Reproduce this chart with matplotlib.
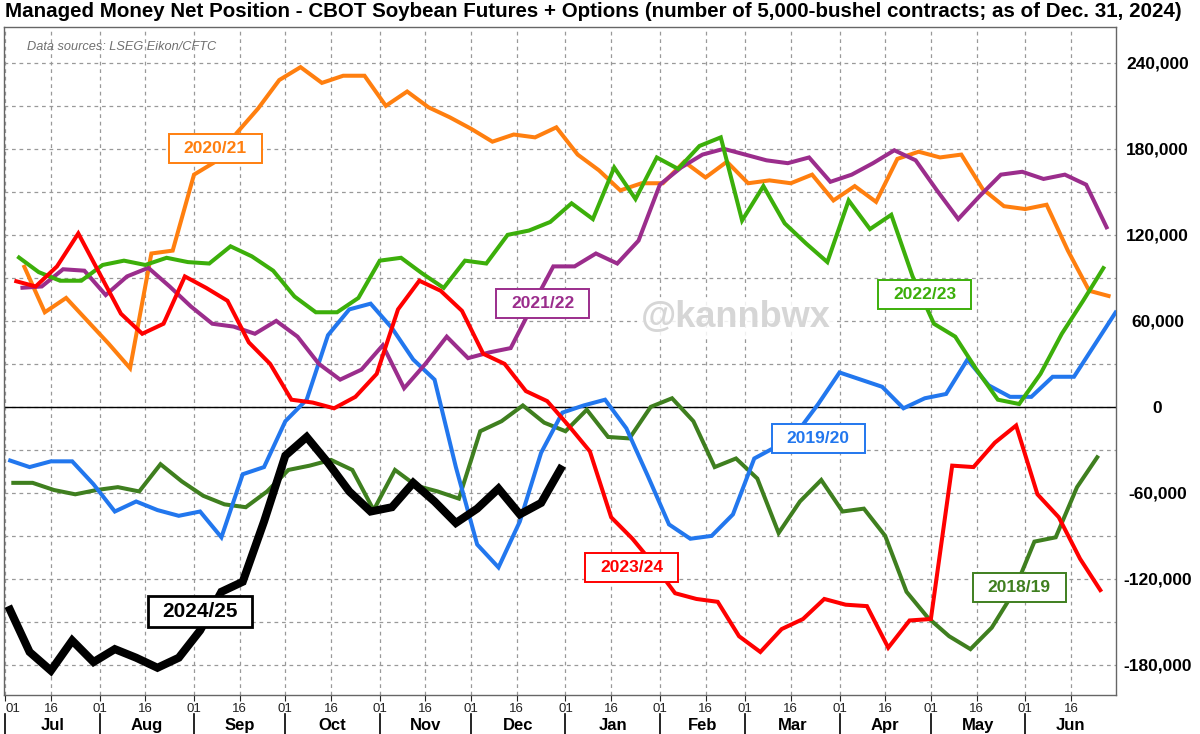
import datetime as dt

import matplotlib

matplotlib.use("Agg")
import matplotlib.pyplot as plt
import matplotlib.transforms as mtransforms
from matplotlib.patches import Rectangle
import numpy as np
import pandas as pd

plt.rcParams["font.family"] = ["Liberation Sans", "DejaVu Sans"]

# Managed money net position, thousands of contracts, weekly (Tuesdays)
seasons = ["2018/19", "2019/20", "2020/21", "2021/22", "2022/23", "2023/24", "2024/25"]
first_report = ["2018-07-03", "2019-07-02", "2020-07-07", "2021-07-06",
                "2022-07-05", "2023-07-04", "2024-07-02"]

mm_2018 = [-53, -53, -58, -61, -58, -56, -59, -40, -52, -62, -68, -70, -59, -44, -41, -37,
           -44, -72, -44, -55, -59, -64, -17, -10, 1, -11, -17, -2, -21, -22, 0, 6,
           -10, -42, -36, -50, -88, -66, -51, -73, -71, -90, -129, -147, -160, -169,
           -154, -130, -94, -91, -56, -34]
mm_2019 = [-37, -42, -38, -38, -54, -73, -66, -72, -76, -73, -91, -47, -42, -10, 5, 50,
           68, 72, 55, 33, 19, -42, -96, -112, -80, -32, -4, 1, 5, -15, -48, -82,
           -92, -90, -75, -36, -28, -18, 2, 24, 19, 14, -1, 6, 9, 33, 15, 7,
           7, 21, 21, 44, 67]
mm_2020 = [99, 66, 76, 60, 44, 27, 107, 109, 162, 171, 191, 208, 228, 237, 226, 231,
           231, 210, 220, 209, 202, 194, 185, 190, 188, 195, 176, 165, 151, 156, 156, 171,
           160, 171, 156, 158, 156, 162, 144, 154, 143, 173, 178, 174, 176, 152, 140, 138,
           141, 109, 81, 77]
mm_2021 = [83, 84, 96, 95, 78, 91, 97, 84, 70, 58, 56, 51, 60, 49, 30, 19,
           26, 43, 13, 30, 49, 34, 38, 41, 70, 98, 98, 107, 100, 116, 155, 167,
           176, 180, 176, 172, 170, 174, 157, 162, 170, 179, 172, 151, 131, 147, 162, 164,
           159, 162, 155, 124]
mm_2022 = [105, 94, 88, 88, 99, 102, 99, 104, 101, 100, 112, 105, 95, 77, 66, 66,
           76, 102, 104, 93, 83, 102, 100, 120, 123, 129, 142, 131, 167, 145, 174, 166,
           182, 188, 130, 154, 128, 114, 101, 144, 124, 134, 91, 58, 49, 26, 5, 2,
           23, 51, 74, 98]
mm_2023 = [88, 84, 98, 121, 93, 65, 51, 58, 91, 83, 74, 45, 30, 5, 3, -1,
           7, 23, 68, 88, 81, 67, 37, 30, 11, 4, -13, -31, -77, -92, -110, -130,
           -134, -136, -160, -171, -155, -148, -134, -138, -139, -168, -149, -148, -41, -42, -25, -13,
           -61, -77, -106, -129]
mm_2024 = [-139, -171, -184, -163, -178, -169, -175, -182, -175, -156, -129, -122, -80, -34, -21, -39,
           -59, -73, -70, -53, -66, -81, -71, -57, -75, -67, -41]

series_values = [mm_2018, mm_2019, mm_2020, mm_2021, mm_2022, mm_2023, mm_2024]
colors = ["#3F7F1F", "#2277EE", "#FF7F0F", "#9B2D8C", "#3CAF0A", "#FF0000", "#000000"]

month_names = ["Jul", "Aug", "Sep", "Oct", "Nov", "Dec", "Jan", "Feb", "Mar", "Apr", "May", "Jun"]
y_ticks = [-180000, -120000, -60000, 0, 60000, 120000, 180000, 240000]


def season_days(start, n):
    dates = pd.date_range(start, periods=n, freq="7D")
    origin = pd.Timestamp(dates[0].year, 7, 1)
    return (dates - origin).days.values


def boxed_label(ax, x, y, text, color, size, padx, pady, lw):
    t = ax.text(x, y, text, color=color, fontsize=size, fontweight="bold", ha="center",
                va="center", zorder=6)
    renderer = ax.figure.canvas.get_renderer()
    bb = t.get_window_extent(renderer)
    x0, y0 = ax.transAxes.inverted().transform((bb.x0 - padx, bb.y0 - pady))
    x1, y1 = ax.transAxes.inverted().transform((bb.x1 + padx, bb.y1 + pady))
    ax.add_patch(Rectangle((x0, y0), x1 - x0, y1 - y0, transform=ax.transAxes,
                           fc="white", ec=color, lw=lw, zorder=5))


fig = plt.figure(figsize=(12, 7.34), dpi=100)
ax = fig.add_axes([4 / 1200, 39 / 734, 1112 / 1200, 668 / 734])

for name, start, vals, col in zip(seasons, first_report, series_values, colors):
    days = season_days(start, len(vals))
    lw = 5.8 if name == "2024/25" else 2.9
    ax.plot(days, np.array(vals) * 1000, color=col, lw=lw, solid_joinstyle="miter",
            solid_capstyle="butt", zorder=3)

ax.axhline(0, color="black", lw=1.0, zorder=2)

ax.set_xlim(-0.4, 364.8)
ax.set_ylim(-201000, 265000)

# x ticks at the 1st and 16th of each month
ref = dt.date(2021, 7, 1)
month_starts = []
for i in range(12):
    m = (6 + i) % 12 + 1
    y = 2021 if m >= 7 else 2022
    month_starts.append((dt.date(y, m, 1) - ref).days)
month_ends = month_starts[1:] + [365]

tick_pos, tick_lab = [], []
for s in month_starts:
    tick_pos += [s, s + 15]
    tick_lab += ["01", "16"]
ax.set_xticks(tick_pos)
ax.set_xticklabels(tick_lab, fontsize=9.5)
ax.get_xticklabels()[0].set_horizontalalignment("left")
ax.tick_params(axis="x", length=4, width=0.8, pad=2, colors="#222222")

trans = mtransforms.blended_transform_factory(ax.transData, ax.transAxes)
for s, e, name in zip(month_starts, month_ends, month_names):
    ax.text((s + e) / 2, -0.045, name, transform=trans, ha="center", va="center",
            fontsize=12, fontweight="bold")
    ax.plot([s, s], [-0.029, -0.06], transform=trans, color="black", lw=1.2, clip_on=False)

# y axis on right
ax.yaxis.tick_right()
ax.set_yticks(y_ticks)
ax.set_yticklabels([f"{v:,}" for v in y_ticks], fontsize=12.5, fontweight="bold")
for lab in ax.get_yticklabels():
    lab.set_horizontalalignment("center")
ax.tick_params(axis="y", length=0, pad=30)
ax.set_yticks(np.arange(-180000, 260000, 30000), minor=True)
ax.tick_params(axis="y", which="minor", length=0)

ax.grid(True, which="major", axis="x", color="#999999", ls=(0, (3, 3)), lw=0.9, zorder=1)
ax.grid(True, which="both", axis="y", color="#999999", ls=(0, (3, 3)), lw=0.9, zorder=1)
ax.set_axisbelow(True)

for sp in ax.spines.values():
    sp.set_color("#666666")
    sp.set_linewidth(1.0)

# season labels
label_pos = {
    "2018/19": (333, -125700),
    "2019/20": (267, -21800),
    "2020/21": (69, 180500),
    "2021/22": (176.5, 72300),
    "2022/23": (302, 78500),
    "2023/24": (205.7, -111800),
}
for name, col in zip(seasons, colors):
    if name in label_pos:
        x, y = label_pos[name]
        boxed_label(ax, x, y, name, col, 12.5, 15, 7, 1.4)
boxed_label(ax, 64, -142500, "2024/25", "black", 15, 14, 6, 2)

ax.text(0.021, 0.97, "Data sources: LSEG Eikon/CFTC", transform=ax.transAxes, fontsize=9.2,
        style="italic", color="#707070", ha="left", va="center")

ax.text(240, 62000, "@kannbwx", fontsize=26, fontweight="bold", color="#D6D6D6",
        ha="center", va="center", zorder=2,
        bbox=dict(boxstyle="square,pad=0.1", fc="white", ec="none", alpha=0.85))

fig.text(0.004, 0.984,
         "Managed Money Net Position - CBOT Soybean Futures + Options "
         "(number of 5,000-bushel contracts; as of Dec. 31, 2024)",
         ha="left", va="center", fontsize=14.8, fontweight="bold")

fig.savefig("out.png", dpi=100)
